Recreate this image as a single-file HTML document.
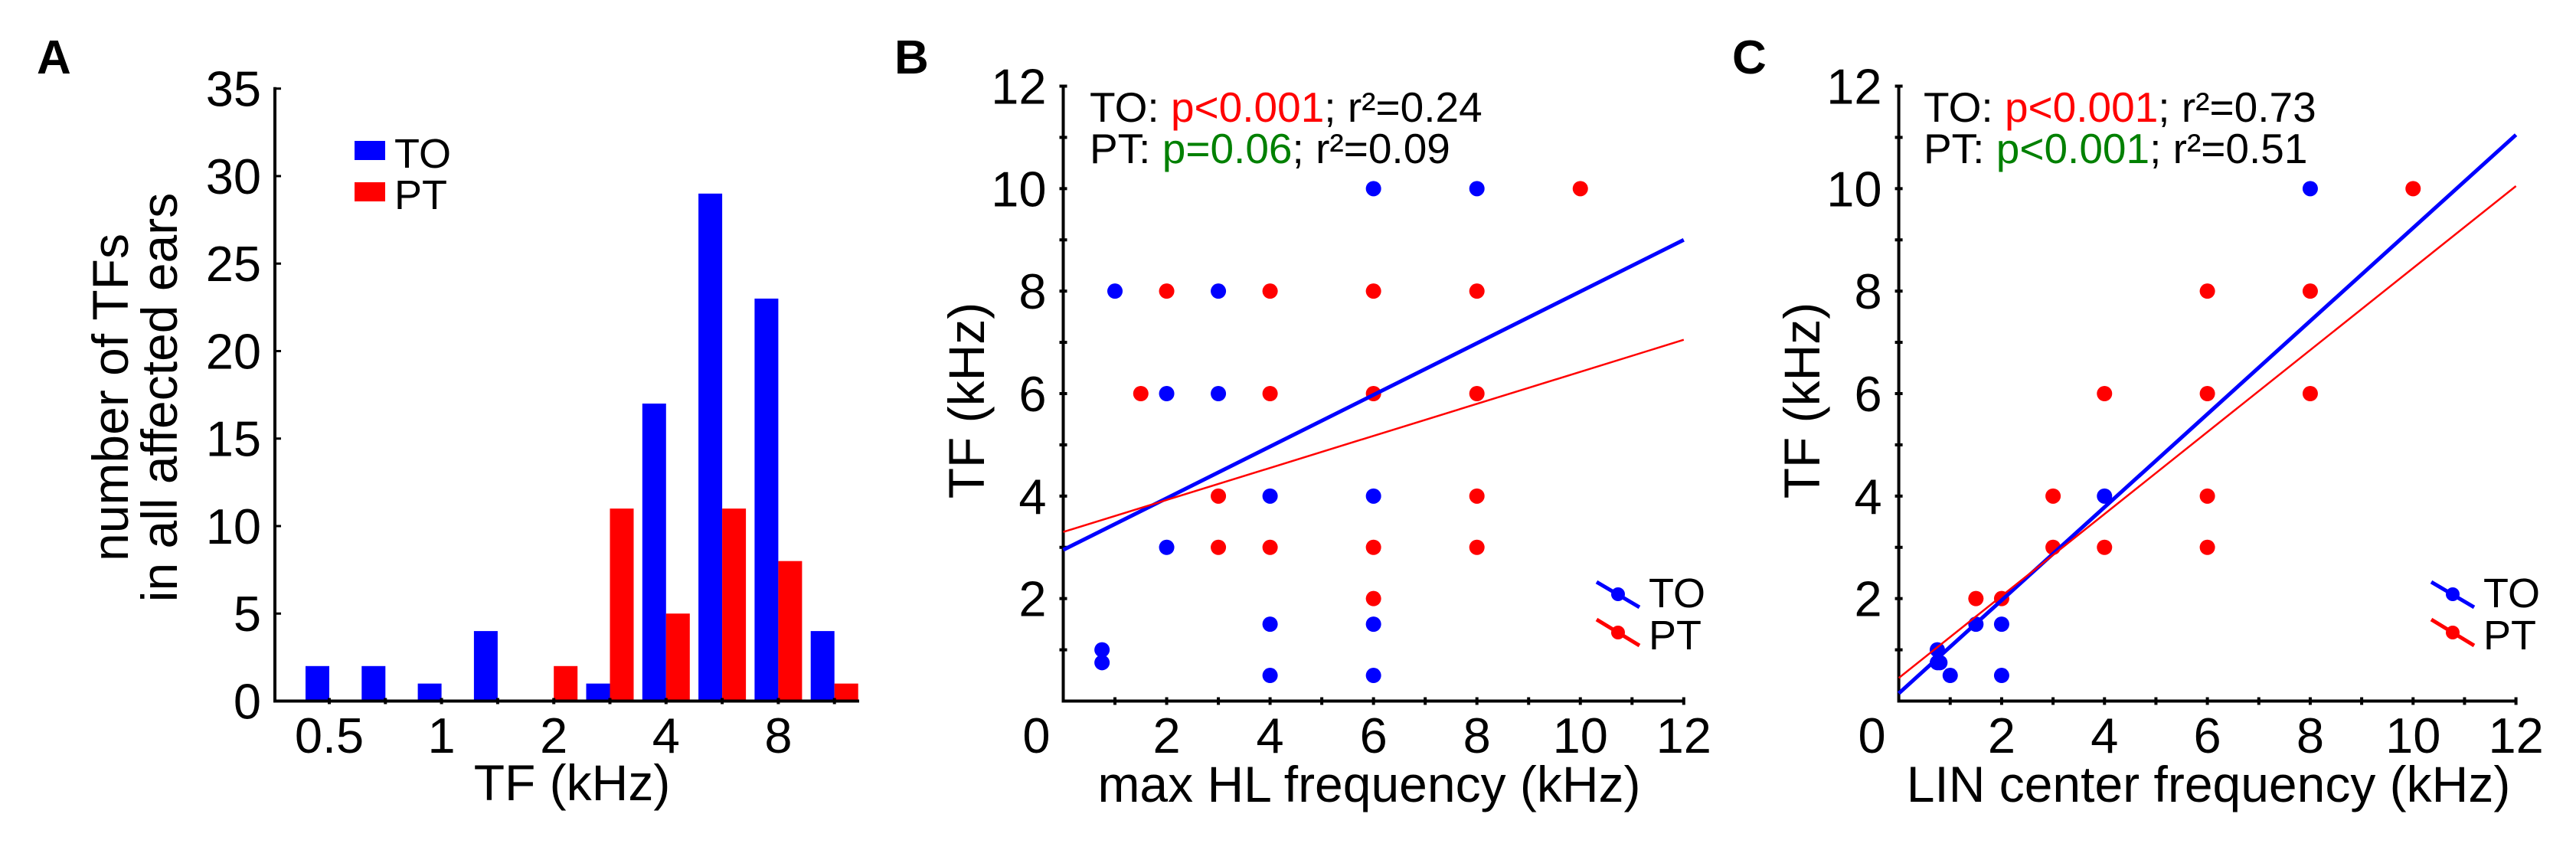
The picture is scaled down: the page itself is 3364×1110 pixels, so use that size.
<!DOCTYPE html>
<html><head><meta charset="utf-8"><style>
html,body{margin:0;padding:0;background:#fff;}
svg{display:block;font-family:"Liberation Sans",Arial,sans-serif;}
</style></head><body>
<svg id="fig" width="3364" height="1110" viewBox="0 0 3364 1110" xmlns="http://www.w3.org/2000/svg">
<text x="48" y="96" font-size="62" font-weight="bold">A</text>
<text x="1168" y="96" font-size="62" font-weight="bold">B</text>
<text x="2262" y="96" font-size="62" font-weight="bold">C</text>
<g id="pa"></g>
<g id="pb"></g>
<g id="pc"></g>
</svg>
<script>
// ---- Panel A data ----
const histBinLabels = ["0.5","","1","","2","","4","","8",""];
const histTO = [2,2,1,4,0,1,17,29,23,4];
const histPT = [0,0,0,0,2,11,5,11,8,1];
const histYTicks = [0,5,10,15,20,25,30,35];

// ---- Panel B data ----
const bTOx = [1,2,3,3,2,4,4,4,6,8,6,6,6,0.75,0.75];
const bTOy = [8,6,8,6,3,4,1.5,0.5,10,10,4,1.5,0.5,1,0.75];
const bPTx = [1.5,2,4,6,8,4,6,8,3,8,3,4,6,8,6,10];
const bPTy = [6,8,8,8,8,6,6,6,4,4,3,3,3,3,2,10];
const bFitTO = [2.95, 9.0];
const bFitPT = [3.3, 7.05];
const bStats = ["p<0.001","0.24","p=0.06","0.09"];

// ---- Panel C data ----
const cTOx = [8,4,2,2,1.5,1,0.75,0.75,0.8];
const cTOy = [10,4,1.5,0.5,1.5,0.5,1,0.75,0.75];
const cPTx = [10,6,8,4,6,8,3,6,3,4,6,1.5,2];
const cPTy = [10,8,8,6,6,6,4,4,3,3,3,2,2];
const cFitTO = [0.15, 11.05];
const cFitPT = [0.45, 10.05];
const cStats = ["p<0.001","0.73","p<0.001","0.51"];

const scatterTicks = [0,2,4,6,8,10,12];
const NS="http://www.w3.org/2000/svg";
const BLUE="#0000ff", RED="#ff0000", GREEN="#008000";
const TICKFS=65, LABFS=66;
function mk(parent, tag, attrs, text){
  const e=document.createElementNS(NS,tag);
  for(const k in attrs) e.setAttribute(k,attrs[k]);
  if(text!==undefined) e.textContent=text;
  parent.appendChild(e); return e;
}

// ---------- Panel A ----------
(function(){
  const g=document.getElementById('pa');
  const x0=359, y0=915.5, yTop=115.7, xEnd=1122;
  const t0=430, step=73.3, bw=31;
  const ys=v=>y0-(v/35)*(y0-yTop);
  const tx=i=>t0+step*i;
  histTO.forEach((v,i)=>{
    if(v<=0) return;
    const r=mk(g,'rect',{x:tx(i)-bw,y:ys(v),width:bw,height:y0-ys(v),fill:BLUE});
    
    
  });
  histPT.forEach((v,i)=>{
    if(v<=0) return;
    const r=mk(g,'rect',{x:tx(i),y:ys(v),width:bw,height:y0-ys(v),fill:RED});
    
    
  });
  const ax=mk(g,'path',{d:`M${x0} ${yTop-2}V${y0}H${xEnd}`,stroke:'#000','stroke-width':4,fill:'none'});
  
  
  histYTicks.forEach(v=>{
    mk(g,'line',{x1:x0,x2:x0+8,y1:ys(v),y2:ys(v),stroke:'#000','stroke-width':3});
    const t=mk(g,'text',{x:x0-18,y:ys(v)+23,'font-size':TICKFS,'text-anchor':'end'},String(v));
    
    
  });
  histBinLabels.forEach((l,i)=>{
    mk(g,'line',{x1:tx(i),x2:tx(i),y1:y0-4,y2:y0+4,stroke:'#000','stroke-width':4});
    if(l){
      const t=mk(g,'text',{x:tx(i),y:983,'font-size':TICKFS,'text-anchor':'middle'},l);
      
      
    }
  });
  const xl=mk(g,'text',{x:747,y:1045,'font-size':LABFS,'text-anchor':'middle'},'TF (kHz)');
  
  
  const yl=mk(g,'text',{transform:'translate(167,519) rotate(-90)','font-size':LABFS,'text-anchor':'middle'},'number of TFs');
  
  
  const yl2=mk(g,'text',{transform:'translate(231,519) rotate(-90)','font-size':LABFS,'text-anchor':'middle'},'in all affected ears');
  
  
  const lg=mk(g,'g',{});
  
  
  mk(lg,'rect',{x:463,y:184,width:40,height:25,fill:BLUE});
  mk(lg,'text',{x:515,y:219,'font-size':54},'TO');
  mk(lg,'rect',{x:463,y:238,width:40,height:25,fill:RED});
  mk(lg,'text',{x:515,y:273,'font-size':54},'PT');
})();

// ---------- Scatter panels ----------
function scatter(gid, x0, xEnd, TOx,TOy,PTx,PTy,fitTO,fitPT,stats,xlabel,ylabelX,xlabelX,annX,legX){
  const g=document.getElementById(gid);
  const y0=915.5, yTop=112.5;
  const xs=v=>x0+(v/12)*(xEnd-x0);
  const ys=v=>y0-(v/12)*(y0-yTop);
  const ax=mk(g,'path',{d:`M${x0} ${yTop}V${y0}H${xEnd}`,stroke:'#000','stroke-width':4,fill:'none'});
  
  
  for(let v=1;v<=12;v++){
    mk(g,'line',{x1:xs(v),x2:xs(v),y1:y0-5,y2:y0+5,stroke:'#000','stroke-width':4});
    mk(g,'line',{x1:x0-5,x2:x0+5,y1:ys(v),y2:ys(v),stroke:'#000','stroke-width':4});
  }
  scatterTicks.forEach(v=>{
    const t=mk(g,'text',{x:v===0?xs(v)-35:xs(v),y:983,'font-size':TICKFS,'text-anchor':'middle'},String(v));
    
    
    if(v>0){
      const t2=mk(g,'text',{x:x0-22,y:ys(v)+23,'font-size':TICKFS,'text-anchor':'end'},String(v));
      
      
    }
  });
  TOx.forEach((x,i)=>{
    const c=mk(g,'circle',{cx:xs(x),cy:ys(TOy[i]),r:10,fill:BLUE});
    
    
  });
  PTx.forEach((x,i)=>{
    const c=mk(g,'circle',{cx:xs(x),cy:ys(PTy[i]),r:10,fill:RED});
    
    
  });
  const lt=mk(g,'line',{x1:xs(0),y1:ys(fitTO[0]),x2:xs(12),y2:ys(fitTO[1]),stroke:BLUE,'stroke-width':5});
  
  
  const lp=mk(g,'line',{x1:xs(0),y1:ys(fitPT[0]),x2:xs(12),y2:ys(fitPT[1]),stroke:RED,'stroke-width':2.5});
  
  
  const a1=mk(g,'text',{x:annX,y:159,'font-size':55});
  
  
  mk(a1,'tspan',{},'TO: ');
  mk(a1,'tspan',{fill:RED},stats[0]);
  mk(a1,'tspan',{},'; r²='+stats[1]);
  const a2=mk(g,'text',{x:annX,y:213,'font-size':55});
  
  
  mk(a2,'tspan',{},'PT: ');
  mk(a2,'tspan',{fill:GREEN},stats[2]);
  mk(a2,'tspan',{},'; r²='+stats[3]);
  const yl=mk(g,'text',{transform:`translate(${ylabelX},523) rotate(-90)`,'font-size':LABFS,'text-anchor':'middle'},'TF (kHz)');
  
  
  const xl=mk(g,'text',{x:xlabelX,y:1047,'font-size':LABFS,'text-anchor':'middle'},xlabel);
  
  
  const lg=mk(g,'g',{});
  
  
  mk(lg,'line',{x1:legX,y1:760,x2:legX+56,y2:793,stroke:BLUE,'stroke-width':5});
  mk(lg,'circle',{cx:legX+28,cy:776,r:9,fill:BLUE});
  mk(lg,'text',{x:legX+68,y:793,'font-size':54},'TO');
  mk(lg,'line',{x1:legX,y1:809,x2:legX+56,y2:843,stroke:RED,'stroke-width':5});
  mk(lg,'circle',{cx:legX+28,cy:826,r:9,fill:RED});
  mk(lg,'text',{x:legX+68,y:848,'font-size':54},'PT');
}
scatter('pb',1388.5,2198.8,bTOx,bTOy,bPTx,bPTy,bFitTO,bFitPT,bStats,'max HL frequency (kHz)',1285,1788,1423,2085);
scatter('pc',2479.6,3285.6,cTOx,cTOy,cPTx,cPTy,cFitTO,cFitPT,cStats,'LIN center frequency (kHz)',2376,2884,2512,3175);
</script>
</body></html>
